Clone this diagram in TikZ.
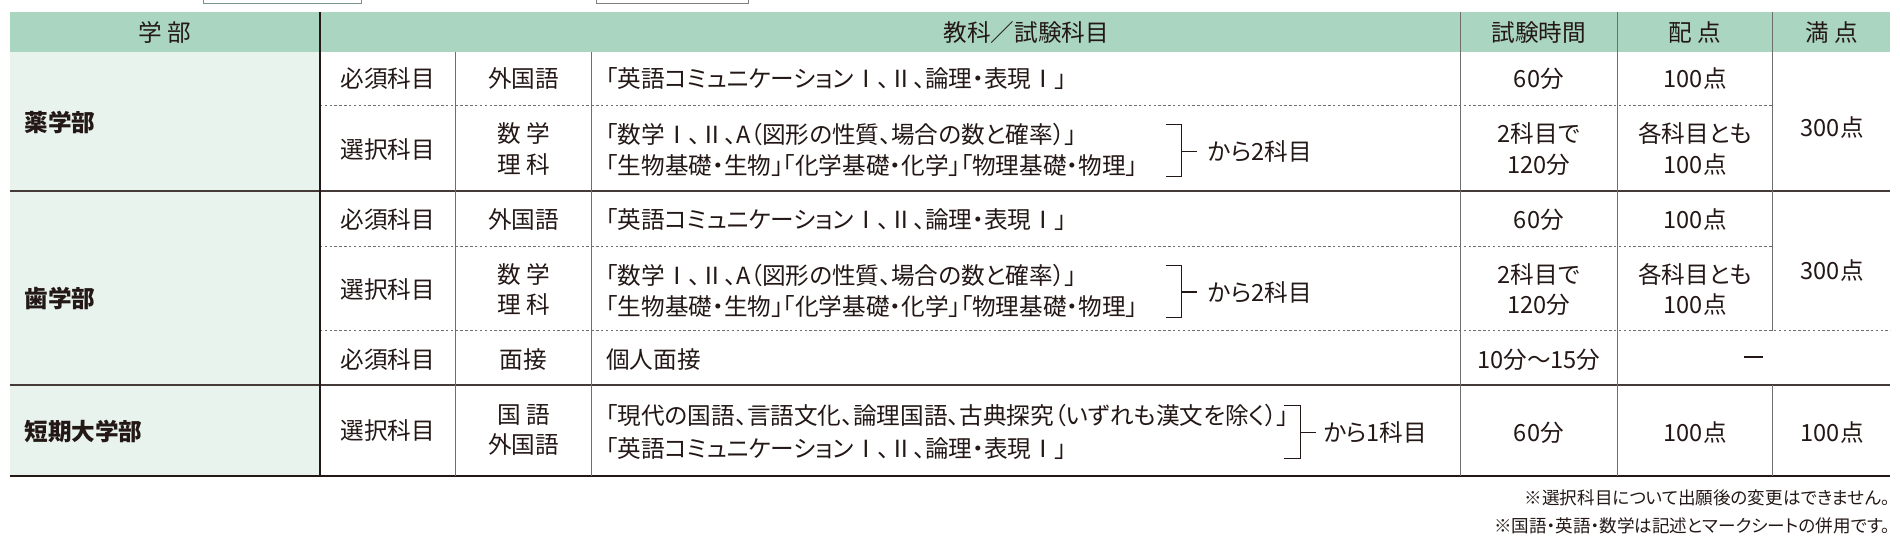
\documentclass[tikz,border=0pt]{standalone}
\usepackage{fontspec}
\setmainfont{Noto Sans CJK JP}[RawFeature=+palt]
\definecolor{headgreen}{HTML}{AAD5C1}
\definecolor{leftgreen}{HTML}{E8F3EE}
\definecolor{ink}{HTML}{231815}
\definecolor{rulegray}{HTML}{6E6E6E}
\tikzset{
  cell/.style={font=\fontsize{19.5}{25}\selectfont, text=ink, inner sep=0pt, align=center},
  lcell/.style={cell, anchor=west, align=left},
  note/.style={font=\fontsize{14.5}{17}\selectfont, text=ink, inner sep=0pt, anchor=east},
  thin/.style={rulegray, line width=0.8pt},
  dashrule/.style={rulegray, line width=0.8pt, dash pattern=on 2pt off 2pt},
  thick/.style={ink!85, line width=1.6pt},
  brace/.style={ink, line width=0.9pt},
}
\begin{document}
\begin{tikzpicture}[x=1pt, y=-1pt]
\useasboundingbox (0,0) rectangle (1568,459);
%% fragments at the top
\draw[headgreen!70!black, line width=0.8pt] (168,0) -- (168,3) -- (298,3) -- (298,0);
\draw[gray, line width=0.8pt] (492,0) -- (492,3) -- (618,3) -- (618,0);
%% fills
\fill[headgreen] (8,10) rectangle (1560,43);
\fill[leftgreen] (8,43) rectangle (264,393);
%% horizontal rules
\draw[dashrule] (264,87) -- (1463,87);
\draw[thick] (8,158) -- (1560,158);
\draw[dashrule] (264,203) -- (1463,203);
\draw[dashrule] (264,273) -- (1560,273);
\draw[thick] (8,318) -- (1560,318);
\draw[ink, line width=2pt] (8,393) -- (1560,393);
%% vertical rules
\draw[ink, line width=1.6pt] (264,10) -- (264,393);
\foreach \xx in {376,488} \draw[thin] (\xx,43) -- (\xx,393);
\foreach \xx in {1205,1335} \draw[thin] (\xx,10) -- (\xx,393);
\draw[thin] (1463,10) -- (1463,273);
\draw[thin] (1463,318) -- (1463,393);
%% header
\node[cell] (hgakubu) at (136,27) {学 部};
\node[cell] (hkamoku) at (847,27) {教科／試験科目};
\node[cell] (hjikan) at (1270,27) {試験時間};
\node[cell] (hhaiten) at (1399,27) {配 点};
\node[cell] (hmanten) at (1512,27) {満 点};
%% 薬学部
\node[lcell, font=\fontsize{19.5}{25}\bfseries] (yaku) at (20,101) {薬学部};
\node[cell] (y1a) at (320,65) {必須科目};
\node[cell] (y1b) at (432,65) {外国語};
\node[lcell] (y1c) at (500,65) {「英語コミュニケーションⅠ、Ⅱ、論理・表現Ⅰ」};
\node[cell] (y1d) at (1270,65) {60分};
\node[cell] (y1e) at (1399,65) {100点};
\node[cell] (y2a) at (320,123) {選択科目};
\node[cell] (y2b) at (432,123) {数 学\\理 科};
\node[lcell] (y2c) at (500,111) {「数学Ⅰ、Ⅱ、A（図形の性質、場合の数と確率）」};
\node[lcell] (y2d) at (500,137) {「生物基礎・生物」「化学基礎・化学」「物理基礎・物理」};
\draw[brace] (962,103) -- (975,103) -- (975,146) -- (962,146);
\node[lcell] (y2f) at (997,125) {から2科目};
\draw[brace] (975,125) -- (988,125);
\node[cell] (y2g) at (1270,123) {2科目で\\120分};
\node[cell] (y2h) at (1399,123) {各科目とも\\100点};
\node[cell] (ytot) at (1512,105) {300点};
%% 歯学部
\node[lcell, font=\fontsize{19.5}{25}\bfseries] (shi) at (20,246) {歯学部};
\node[cell] (s1a) at (320,181) {必須科目};
\node[cell] (s1b) at (432,181) {外国語};
\node[lcell] (s1c) at (500,181) {「英語コミュニケーションⅠ、Ⅱ、論理・表現Ⅰ」};
\node[cell] (s1d) at (1270,181) {60分};
\node[cell] (s1e) at (1399,181) {100点};
\node[cell] (s2a) at (320,239) {選択科目};
\node[cell] (s2b) at (432,239) {数 学\\理 科};
\node[lcell] (s2c) at (500,227) {「数学Ⅰ、Ⅱ、A（図形の性質、場合の数と確率）」};
\node[lcell] (s2d) at (500,253) {「生物基礎・生物」「化学基礎・化学」「物理基礎・物理」};
\draw[brace] (962,219) -- (975,219) -- (975,262) -- (962,262);
\node[lcell] (s2f) at (997,241) {から2科目};
\draw[brace] (975,241) -- (988,241);
\node[cell] (s2g) at (1270,239) {2科目で\\120分};
\node[cell] (s2h) at (1399,239) {各科目とも\\100点};
\node[cell] (stot) at (1512,223) {300点};
\node[cell] (s3a) at (320,297) {必須科目};
\node[cell] (s3b) at (432,297) {面接};
\node[lcell] (s3c) at (500,297) {個人面接};
\node[cell] (s3d) at (1270,297) {10分～15分};
\node[cell] (s3e) at (1447,297) {\rule[5pt]{16pt}{1.6pt}};
%% 短期大学部
\node[lcell, font=\fontsize{19.5}{25}\bfseries] (tanki) at (20,356) {短期大学部};
\node[cell] (t1a) at (320,355) {選択科目};
\node[cell] (t1b) at (432,355) {国 語\\外国語};
\node[lcell] (t1c) at (500,343) {「現代の国語、言語文化、論理国語、古典探究（いずれも漢文を除く）」};
\node[lcell] (t1d) at (500,370) {「英語コミュニケーションⅠ、Ⅱ、論理・表現Ⅰ」};
\draw[brace] (1060,335) -- (1073,335) -- (1073,378) -- (1060,378);
\node[lcell] (t1f) at (1092,357) {から1科目};
\draw[brace] (1073,357) -- (1086,357);
\node[cell] (t1g) at (1270,357) {60分};
\node[cell] (t1h) at (1399,357) {100点};
\node[cell] (ttot) at (1512,357) {100点};
%% notes
\node[note] (note1) at (1560,411) {※選択科目について出願後の変更はできません。};
\node[note] (note2) at (1560,434) {※国語・英語・数学は記述とマークシートの併用です。};
\end{tikzpicture}
\end{document}
